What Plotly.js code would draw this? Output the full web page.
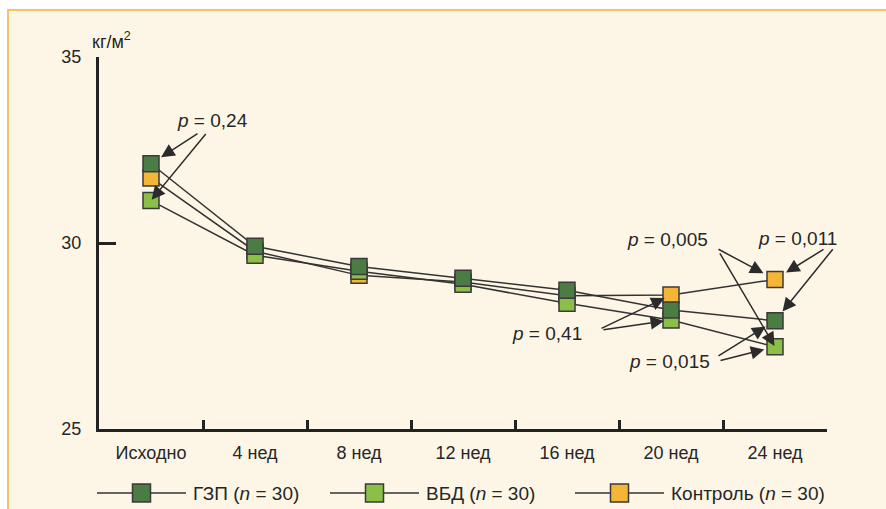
<!DOCTYPE html>
<html>
<head>
<meta charset="utf-8">
<script src="https://cdn.plot.ly/plotly-3.0.1.min.js"></script>
<style>
  html, body { margin: 0; padding: 0; background: #ffffff; }
  #frame {
    position: absolute; left: 7px; top: 9px; width: 900px; height: 520px;
    background: #fdf6e6; border-left: 2px solid #f7c169; border-top: 2px solid #f7c169;
  }
  #chart { position: absolute; left: 0; top: 0; width: 886px; height: 509px; }
</style>
</head>
<body>
<div id="frame"></div>
<div id="chart"></div>
<script>
// BMI (kg/m²) by visit for three groups
const categories = ['Исходно', '4 нед', '8 нед', '12 нед', '16 нед', '20 нед', '24 нед'];
const seriesNames = ['ГЗП', 'ВБД', 'Контроль'];
const groupN = [30, 30, 30];
const gzp = [32.13, 29.91, 29.37, 29.05, 28.73, 28.20, 27.91];
const vbd = [31.14, 29.67, 29.24, 28.89, 28.38, 27.93, 27.21];
const control = [31.75, 29.78, 29.13, 28.95, 28.58, 28.60, 29.02];
const yTicks = [25, 30, 35];
const unitLabel = 'кг/м<sup>2</sup>';

// p-value callouts
const pLabels = ['0,24', '0,005', '0,011', '0,015', '0,41'];

const colors = ['#4a7c43', '#8bbf48', '#f5b536'];
const seriesData = [gzp, vbd, control];
const ink = '#262626';
const font = 'Liberation Sans, Arial, Helvetica, sans-serif';

// plot box in pixels
const L = 99, R = 59, T = 57, B = 80, WIDTH = 886, HEIGHT = 509;
const PW = WIDTH - L - R, PH = HEIGHT - T - B;
const pxX = x => (x - L) / PW;
const pxY = y => (T + PH - y) / PH;

const traces = [];
// connecting lines first, so that every marker sits above all lines
seriesData.forEach((vals, i) => {
  traces.push({
    type: 'scatter', mode: 'lines', x: categories, y: vals,
    line: { color: '#333333', width: 1.5 }, showlegend: false, hoverinfo: 'skip'
  });
});
// markers: Контроль at the bottom, ГЗП on top
[2, 1, 0].forEach(i => {
  traces.push({
    type: 'scatter', mode: 'markers', x: categories, y: seriesData[i], name: seriesNames[i],
    marker: { symbol: 'square', size: 16, color: colors[i], line: { color: '#3a3a3a', width: 1.5 } },
    showlegend: false
  });
});

const annotations = [];
const textFont = { family: font, size: 19, color: ink };

annotations.push({
  xref: 'paper', yref: 'paper', x: pxX(111), y: pxY(40), xanchor: 'center', yanchor: 'middle',
  text: unitLabel, showarrow: false, font: { family: font, size: 18, color: ink }
});

// label text positions (pixel centres)
const labelPos = [[212, 121], [667, 239], [797, 238], [669, 361], [547, 333]];
pLabels.forEach((lab, k) => {
  annotations.push({
    xref: 'paper', yref: 'paper', x: pxX(labelPos[k][0]), y: pxY(labelPos[k][1]),
    xanchor: 'center', yanchor: 'middle', showarrow: false,
    text: '<i>p</i> = ' + lab, font: textFont
  });
});

// arrows: [series index, category index, tail offset x, tail offset y, standoff]
const arrows = [
  [0, 0, 48, -31, 12], [1, 0, 56, -68, 1],
  [2, 6, -58, -31, 13], [1, 6, -56, -95, 1],
  [2, 6, 50, -31, 13], [0, 6, 59, -73, 12],
  [0, 6, -58, 36, 11], [1, 6, -56, 14, 11],
  [2, 5, -71, 34, 7], [1, 5, -69, 10, 7]
];
arrows.forEach(a => {
  annotations.push({
    xref: 'x', yref: 'y', x: categories[a[1]], y: seriesData[a[0]][a[1]],
    ax: a[2], ay: a[3], axref: 'pixel', ayref: 'pixel',
    text: '', showarrow: true, arrowhead: 2, arrowsize: 1.8, arrowwidth: 1.5,
    arrowcolor: '#2b2b2b', standoff: a[4]
  });
});

// legend row
const shapes = [];
const legendStart = [97, 330, 575];
const legendLine = 89, legendY = 493;
seriesNames.forEach((name, i) => {
  const x0 = legendStart[i], x1 = x0 + legendLine, xc = (x0 + x1) / 2;
  shapes.push({
    type: 'line', xref: 'paper', yref: 'paper', x0: pxX(x0), x1: pxX(x1), y0: pxY(legendY), y1: pxY(legendY),
    line: { color: '#333333', width: 1.3 }
  });
  shapes.push({
    type: 'rect', xref: 'paper', yref: 'paper', x0: pxX(xc - 9), x1: pxX(xc + 9),
    y0: pxY(legendY + 9), y1: pxY(legendY - 9),
    fillcolor: colors[i], line: { color: '#3a3a3a', width: 1.5 }
  });
  annotations.push({
    xref: 'paper', yref: 'paper', x: pxX(x1 + 5), y: pxY(legendY), xanchor: 'left', yanchor: 'middle',
    showarrow: false, text: name + ' (<i>n</i> = ' + groupN[i] + ')', font: textFont
  });
});

const layout = {
  width: WIDTH, height: HEIGHT,
  margin: { l: L, r: R, t: T, b: B, pad: 0 },
  paper_bgcolor: 'rgba(0,0,0,0)', plot_bgcolor: 'rgba(0,0,0,0)',
  showlegend: false,
  font: { family: font, size: 18, color: ink },
  xaxis: {
    type: 'category', categoryorder: 'array', categoryarray: categories, range: [-0.5, 6.5],
    showline: true, linecolor: '#222222', linewidth: 3,
    ticks: 'inside', tickson: 'boundaries', ticklen: 9, tickwidth: 3, tickcolor: '#222222',
    ticklabelstandoff: 5,
    showgrid: false, zeroline: false, tickfont: { family: font, size: 18, color: ink },
    fixedrange: true
  },
  yaxis: {
    range: [25, 35], tickvals: yTicks, ticktext: yTicks.map(String),
    showline: true, linecolor: '#222222', linewidth: 3,
    ticks: 'inside', ticklen: 17, tickwidth: 3, tickcolor: '#222222',
    ticklabelstandoff: 11,
    showgrid: false, zeroline: false, tickfont: { family: font, size: 18, color: ink },
    fixedrange: true
  },
  shapes: shapes,
  annotations: annotations
};

Plotly.newPlot('chart', traces, layout, { displayModeBar: false, staticPlot: true });
</script>
</body>
</html>
